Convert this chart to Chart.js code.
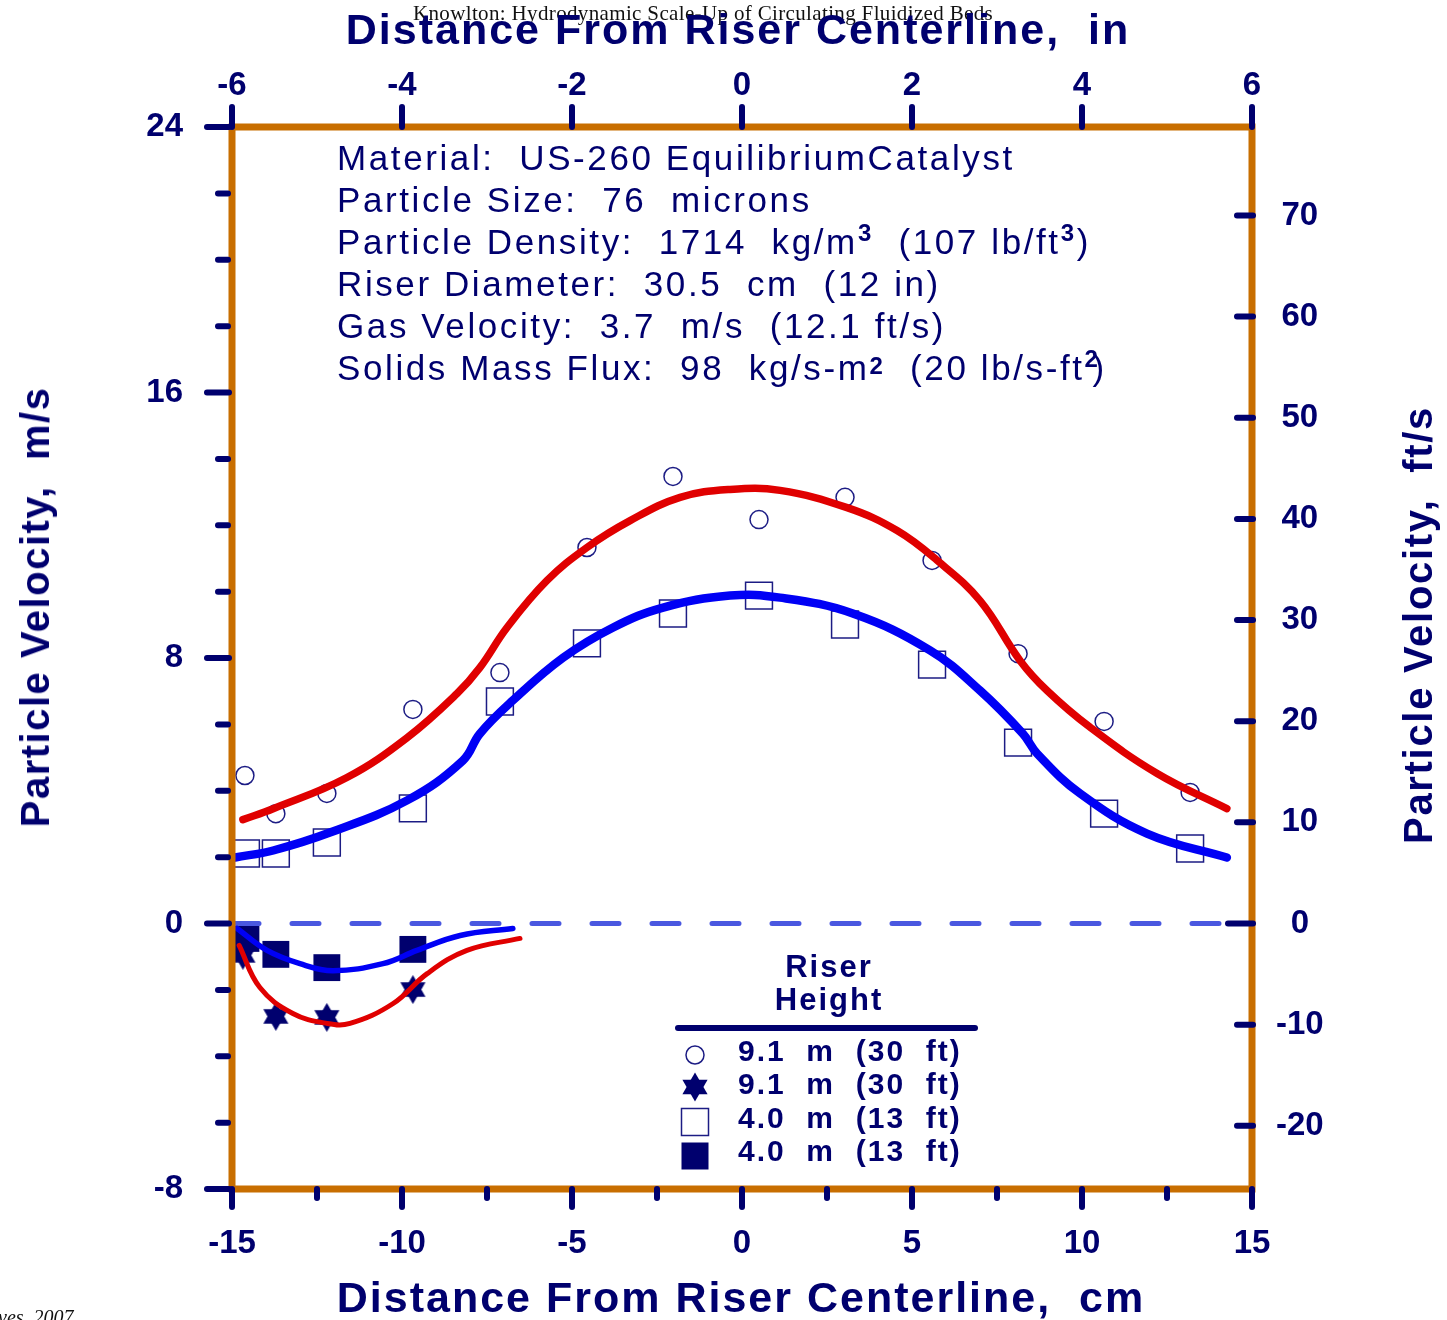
<!DOCTYPE html>
<html>
<head>
<meta charset="utf-8">
<script src="https://cdn.jsdelivr.net/npm/chart.js@4.4.0/dist/chart.umd.min.js"></script>
<style>
body { margin: 0; background: #fff; overflow: hidden; }
#wrap { position: relative; width: 1447px; height: 1320px; overflow: hidden; }
#grafica { position: absolute; left: 0; top: 0; }
.t { position: absolute; white-space: pre; color: #00006e; font-family: "Liberation Sans", Arial, sans-serif; line-height: 1; }
.b { font-weight: bold; }
.serif { position: absolute; white-space: pre; color: #111; font-family: "Liberation Serif", "Times New Roman", serif; line-height: 1; }
.info { white-space: normal; }
.info div { height: 42px; line-height: 42px; white-space: pre; }
.info sup { font-size: 24px; font-weight: bold; line-height: 0; vertical-align: 13px; }
#leyenda svg { position: absolute; left: 0; top: 0; }
</style>
</head>
<body>
<div id="wrap">
  <canvas id="grafica" width="1447" height="1320"></canvas>

  <div class="serif" style="left:413px;top:3px;font-size:21px;letter-spacing:0.35px;">Knowlton: Hydrodynamic Scale-Up of Circulating Fluidized Beds</div>
  <div class="t b" style="left:738px;top:8px;font-size:43px;letter-spacing:2px;transform:translateX(-50%);">Distance From Riser Centerline,  in</div>
  <div class="t b" style="left:741px;top:1276px;font-size:43px;letter-spacing:2px;transform:translateX(-50%);">Distance From Riser Centerline,  cm</div>
  <div class="t b" style="left:35px;top:607px;font-size:40px;letter-spacing:1.5px;transform:translate(-50%,-50%) rotate(-90deg);">Particle Velocity,  m/s</div>
  <div class="t b" style="left:1418px;top:625px;font-size:40px;letter-spacing:1.7px;transform:translate(-50%,-50%) rotate(-90deg);">Particle Velocity,  ft/s</div>
  <div class="serif" style="left:-2px;top:1307px;font-size:20px;font-style:italic;">ves, 2007</div>

  <!-- bloque de condiciones -->
  <div class="t info" style="left:337px;top:137px;font-size:35px;letter-spacing:2.6px;"><div>Material:  US-260 EquilibriumCatalyst</div><div>Particle Size:  76  microns</div><div>Particle Density:  1714  kg/m<sup>3</sup>  (107 lb/ft<sup>3</sup>)</div><div>Riser Diameter:  30.5  cm  (12 in)</div><div>Gas Velocity:  3.7  m/s  (12.1 ft/s)</div><div>Solids Mass Flux:  98  kg/s-m<sup style="vertical-align:6px">2</sup>  (20 lb/s-ft<sup style="margin-right:-8px">2</sup>)</div></div>

  <!-- leyenda -->
  <div id="leyenda">
    <div class="t b" style="left:829px;top:951px;font-size:31px;letter-spacing:2px;transform:translateX(-50%);">Riser</div>
    <div class="t b" style="left:829px;top:984px;font-size:31px;letter-spacing:2px;transform:translateX(-50%);">Height</div>
    <div style="position:absolute;left:675px;top:1025px;width:303px;height:6px;border-radius:3px;background:#00006e;"></div>
    <svg width="1447" height="1320" style="pointer-events:none">
      <circle cx="695" cy="1055" r="9" fill="none" stroke="#1c1c84" stroke-width="1.5"/>
      <polygon points="695,1072.5 707.6,1094.3 682.4,1094.3" fill="#00006e"/>
      <polygon points="695,1101.5 707.6,1079.7 682.4,1079.7" fill="#00006e"/>
      <rect x="681.5" y="1108.5" width="27" height="27" fill="none" stroke="#1c1c84" stroke-width="1.5"/>
      <rect x="681.5" y="1142.5" width="27" height="27" fill="#00006e"/>
    </svg>
    <div class="t b" style="left:738px;top:1036px;font-size:30px;letter-spacing:2px;">9.1  m  (30  ft)</div>
    <div class="t b" style="left:738px;top:1069px;font-size:30px;letter-spacing:2px;">9.1  m  (30  ft)</div>
    <div class="t b" style="left:738px;top:1103px;font-size:30px;letter-spacing:2px;">4.0  m  (13  ft)</div>
    <div class="t b" style="left:738px;top:1136px;font-size:30px;letter-spacing:2px;">4.0  m  (13  ft)</div>
  </div>
</div>

<script>
// --- DATOS (cm, m/s) ---
// 9.1 m, velocidad ascendente (círculos abiertos)
const circX = [-14.62, -13.71, -12.21, -9.68, -7.12, -4.56, -2.03, 0.50, 3.03, 5.59, 8.12, 10.65, 13.18];
const circY = [4.46, 3.31, 3.92, 6.45, 7.56, 11.33, 13.47, 12.17, 12.84, 10.94, 8.13, 6.09, 3.95];
// 4.0 m, velocidad ascendente (cuadros abiertos)
const sqX = [-14.59, -13.71, -12.21, -9.68, -7.12, -4.56, -2.03, 0.50, 3.03, 5.59, 8.12, 10.65, 13.18];
const sqY = [2.11, 2.11, 2.44, 3.47, 6.69, 8.44, 9.34, 9.88, 9.01, 7.80, 5.45, 3.31, 2.26];
// 9.1 m, velocidad descendente (estrellas)
const starX = [-14.68, -13.71, -12.21, -9.68];
const starY = [-0.96, -2.80, -2.83, -1.99];
// 4.0 m, velocidad descendente (cuadros llenos)
const fsqX = [-14.59, -13.71, -12.21, -9.68];
const fsqY = [-0.45, -0.93, -1.33, -0.78];

// curvas de ajuste
const redUpX = [-14.68, -13.79, -11.62, -9.85, -8.38, -7.71, -6.91, -5.74, -4.56, -3.29, -1.82, -0.35, 1.12, 3.09, 4.56, 5.74, 7.0, 8.18, 8.97, 10.24, 12.21, 14.26];
const redUpY = [3.13, 3.46, 4.40, 5.60, 6.93, 7.71, 8.92, 10.33, 11.33, 12.14, 12.84, 13.08, 13.05, 12.53, 11.84, 10.94, 9.73, 7.92, 7.02, 5.91, 4.52, 3.46];
const blueUpX = [-14.91, -13.79, -12.12, -9.85, -8.21, -7.71, -6.74, -5.26, -3.79, -2.32, -0.35, 1.12, 3.26, 5.53, 7.0, 8.26, 8.68, 9.94, 11.91, 14.26];
const blueUpY = [1.99, 2.20, 2.74, 3.71, 4.91, 5.72, 6.72, 8.01, 8.92, 9.52, 9.88, 9.82, 9.34, 8.23, 7.02, 5.72, 5.12, 3.92, 2.71, 1.99];
const redDownX = [-14.79, -14.18, -13.21, -12.21, -11.53, -10.26, -9.26, -8.09, -6.53];
const redDownY = [-0.66, -1.93, -2.71, -3.01, -3.01, -2.41, -1.51, -0.81, -0.45];
const blueDownX = [-14.85, -13.97, -13.0, -12.03, -10.56, -9.56, -8.29, -6.74];
const blueDownY = [-0.15, -0.81, -1.21, -1.42, -1.21, -0.81, -0.36, -0.15];
const zeroX = [-15, 14.4];
const zeroY = [0, 0];

// ejes
const cmMin = -15, cmMax = 15;
const inMin = -6, inMax = 6;
const msMin = -8, msMax = 24;
const ftsMin = msMin / 0.3048, ftsMax = msMax / 0.3048;

const NAVY = '#00006e';
const MARK = '#1c1c84';
const ORANGE = '#c86e00';

function pares(xs, ys) { return xs.map((x, i) => ({ x: x, y: ys[i] })); }

function hacerEstrella(tam, color) {
    const c = document.createElement('canvas');
    c.width = tam; c.height = tam;
    const g = c.getContext('2d');
    g.fillStyle = color;
    const r = tam / 2;
    for (let k = 0; k < 2; k++) {
        g.beginPath();
        for (let i = 0; i < 3; i++) {
            const a = -Math.PI / 2 + k * Math.PI + i * 2 * Math.PI / 3;
            g.lineTo(r + r * Math.cos(a), r + r * Math.sin(a));
        }
        g.closePath();
        g.fill();
    }
    return c;
}

// marco naranja y marcas de los ejes
const marcoYMarcas = {
    id: 'marcoYMarcas',
    afterDatasetsDraw(chart) {
        const { ctx, chartArea: a } = chart;
        ctx.save();
        ctx.strokeStyle = ORANGE;
        ctx.lineWidth = 7;
        ctx.strokeRect(a.left, a.top, a.right - a.left, a.bottom - a.top);
        ctx.restore();
    },
    afterDraw(chart) {
        const { ctx, chartArea: a, scales } = chart;
        ctx.save();
        ctx.strokeStyle = NAVY;
        ctx.lineWidth = 6;
        ctx.lineCap = 'round';
        const linea = (x1, y1, x2, y2) => { ctx.beginPath(); ctx.moveTo(x1, y1); ctx.lineTo(x2, y2); ctx.stroke(); };
        for (let v = cmMin; v <= cmMax; v += 2.5) {
            const px = scales.x.getPixelForValue(v);
            linea(px, a.bottom, px, a.bottom + (v % 5 === 0 ? 18 : 9));
        }
        for (let v = inMin; v <= inMax; v += 2) {
            const px = scales.x2.getPixelForValue(v);
            linea(px, a.top - 20, px, a.top);
        }
        for (let v = msMin; v <= msMax; v += 2) {
            const py = scales.y.getPixelForValue(v);
            if (v % 8 === 0) linea(a.left - 25, py, a.left - 3, py);
            else linea(a.left - 14, py, a.left - 4, py);
        }
        for (let v = -20; v <= 70; v += 10) {
            const py = scales.y2.getPixelForValue(v);
            linea(a.right - (v === 0 ? 24 : 15), py, a.right + 1, py);
        }
        ctx.restore();
    }
};

const fuenteTicks = { family: '"Liberation Sans", Arial, sans-serif', size: 33, weight: 'bold' };

new Chart(document.getElementById('grafica'), {
    type: 'scatter',
    data: {
        datasets: [
            { data: pares(redUpX, redUpY), showLine: true, borderColor: '#e00000', borderWidth: 7.5, pointRadius: 0, tension: 0.4, borderCapStyle: 'round', order: 0 },
            { data: pares(blueUpX, blueUpY), showLine: true, borderColor: '#0000f5', borderWidth: 8.5, pointRadius: 0, tension: 0.4, borderCapStyle: 'round', order: 0 },
            { data: pares(redDownX, redDownY), showLine: true, borderColor: '#e00000', borderWidth: 5, pointRadius: 0, tension: 0.4, borderCapStyle: 'round', order: 0 },
            { data: pares(blueDownX, blueDownY), showLine: true, borderColor: '#0000f5', borderWidth: 5.5, pointRadius: 0, tension: 0.4, borderCapStyle: 'round', order: 0 },
            { data: pares(zeroX, zeroY), showLine: true, borderColor: '#4a58e0', borderWidth: 5, borderDash: [27, 33], borderCapStyle: 'round', pointRadius: 0, order: 0 },
            { data: pares(circX, circY), pointStyle: 'circle', pointRadius: 9, borderColor: MARK, borderWidth: 1.5, backgroundColor: 'rgba(0,0,0,0)', clip: false, order: 1 },
            { data: pares(sqX, sqY), pointStyle: 'rect', pointRadius: 19, borderColor: MARK, borderWidth: 1.5, backgroundColor: 'rgba(0,0,0,0)', clip: false, order: 1 },
            { data: pares(starX, starY), pointStyle: hacerEstrella(29, NAVY), pointRadius: 14, clip: false, order: 2 },
            { data: pares(fsqX, fsqY), pointStyle: 'rect', pointRadius: 19, borderColor: NAVY, borderWidth: 0, backgroundColor: NAVY, clip: false, order: 1 }
        ]
    },
    options: {
        responsive: false,
        animation: false,
        events: [],
        layout: { padding: 0 },
        plugins: { legend: { display: false }, tooltip: { enabled: false } },
        scales: {
            x: {
                type: 'linear', position: 'bottom', min: cmMin, max: cmMax,
                ticks: { stepSize: 5, font: fuenteTicks, color: NAVY, padding: 35, maxRotation: 0 },
                grid: { display: false, drawTicks: false }, border: { display: false },
                afterFit: s => { s.height = 131; }
            },
            x2: {
                type: 'linear', position: 'top', min: inMin, max: inMax,
                ticks: { stepSize: 2, font: fuenteTicks, color: NAVY, padding: 21, maxRotation: 0 },
                grid: { display: false, drawTicks: false }, border: { display: false },
                afterFit: s => { s.height = 127; }
            },
            y: {
                type: 'linear', position: 'left', min: msMin, max: msMax,
                ticks: { stepSize: 8, font: fuenteTicks, color: NAVY, padding: 49 },
                grid: { display: false, drawTicks: false }, border: { display: false },
                afterFit: s => { s.width = 232; }
            },
            y2: {
                type: 'linear', position: 'right', min: ftsMin, max: ftsMax,
                ticks: { stepSize: 10, includeBounds: false, font: fuenteTicks, color: NAVY, padding: 24, crossAlign: 'center' },
                grid: { display: false, drawTicks: false }, border: { display: false },
                afterFit: s => { s.width = 195; }
            }
        }
    },
    plugins: [marcoYMarcas]
});
</script>
</body>
</html>
